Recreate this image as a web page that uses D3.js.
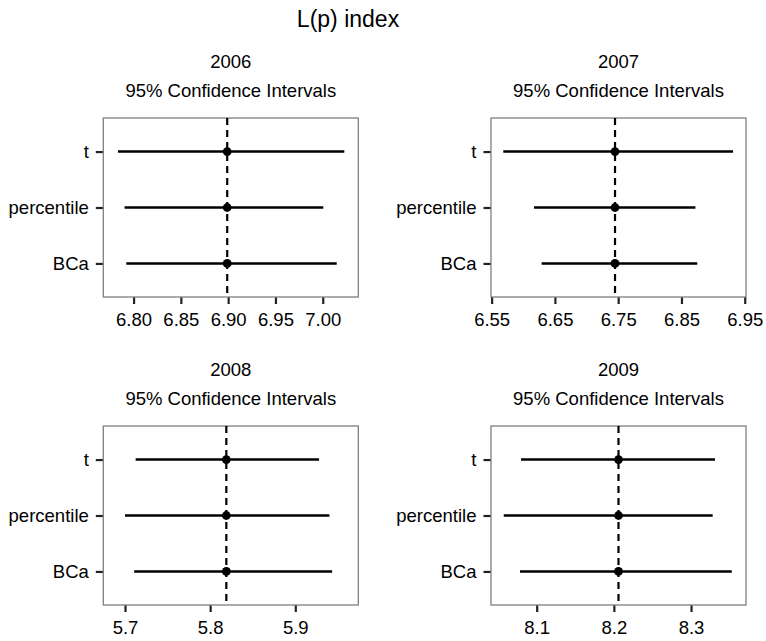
<!DOCTYPE html>
<html>
<head>
<meta charset="utf-8">
<script src="https://cdn.jsdelivr.net/npm/d3@7"></script>
<style>
  body { margin: 0; background: #fff; }
  svg { font-family: "Liberation Sans", Arial, sans-serif; }
  .tick text { fill: #000; }
</style>
</head>
<body>
<svg width="766" height="641"></svg>
<script>
// data
const years = ["2006", "2007", "2008", "2009"];
const methods = ["t", "percentile", "BCa"];
const estimates = [6.899, 6.745, 5.819, 8.206];
// lower / upper bounds per year, in the order of methods
const lowerCI = [
  [6.7835, 6.7905, 6.7923],
  [6.5684, 6.6170, 6.6290],
  [5.7125, 5.7000, 5.7108],
  [8.0797, 8.0573, 8.0784]
];
const upperCI = [
  [7.0228, 7.0006, 7.0148],
  [6.9316, 6.8720, 6.8750],
  [5.9279, 5.9401, 5.9433],
  [8.3310, 8.3280, 8.3528]
];
// axis limits and tick labels
const xDomains = [[6.768, 7.0376], [6.549, 6.952], [5.6745, 5.974], [8.0408, 8.3712]];
const xTicks = [
  [6.80, 6.85, 6.90, 6.95, 7.00],
  [6.55, 6.65, 6.75, 6.85, 6.95],
  [5.7, 5.8, 5.9],
  [8.1, 8.2, 8.3]
];
const tickFormats = [".2f", ".2f", ".1f", ".1f"];

const svg = d3.select("svg");
const fontSize = 18.5;

// overall title
svg.append("text")
  .attr("x", 348).attr("y", 26.5)
  .attr("text-anchor", "middle")
  .style("font-size", "23px")
  .text("L(p) index");

// panel boxes (left, top) - 2x2 grid
const colX = [103.3, 491];
const rowY = [118, 426];
const pw = 255, ph = 179;

years.forEach((year, i) => {
  const left = colX[i % 2], top = rowY[Math.floor(i / 2)];
  const g = svg.append("g").attr("transform", `translate(${left},${top})`);

  const x = d3.scaleLinear().domain(xDomains[i]).range([0, pw]);
  const y = d3.scalePoint().domain(methods).range([0, ph]).padding(0.6);

  // titles
  g.append("text")
    .attr("x", pw / 2).attr("y", -50)
    .attr("text-anchor", "middle")
    .style("font-size", fontSize + "px")
    .text(year);
  g.append("text")
    .attr("x", pw / 2).attr("y", -21)
    .attr("text-anchor", "middle")
    .style("font-size", fontSize + "px")
    .text("95% Confidence Intervals");

  // axes
  const xAxis = g.append("g")
    .attr("transform", `translate(0,${ph})`)
    .call(d3.axisBottom(x).tickValues(xTicks[i]).tickFormat(d3.format(tickFormats[i])).tickSize(7).tickPadding(9));
  const yAxis = g.append("g")
    .call(d3.axisLeft(y).tickSize(7.5).tickPadding(7));
  [xAxis, yAxis].forEach(a => {
    a.select(".domain").remove();
    a.selectAll(".tick line").attr("stroke", "#222").attr("stroke-width", 2.2);
    a.selectAll(".tick text").style("font-size", fontSize + "px").attr("font-family", null);
  });

  // panel border
  g.append("rect")
    .attr("x", 0).attr("y", 0).attr("width", pw).attr("height", ph)
    .attr("fill", "none").attr("stroke", "#7f7f7f").attr("stroke-width", 1.3);

  // reference line at the estimate
  g.append("line")
    .attr("x1", x(estimates[i])).attr("x2", x(estimates[i]))
    .attr("y1", 0).attr("y2", ph)
    .attr("stroke", "#000").attr("stroke-width", 2.2)
    .attr("stroke-dasharray", "7,5");

  // intervals
  g.selectAll("line.ci")
    .data(methods)
    .join("line")
    .attr("class", "ci")
    .attr("x1", (d, j) => x(lowerCI[i][j]))
    .attr("x2", (d, j) => x(upperCI[i][j]))
    .attr("y1", d => y(d)).attr("y2", d => y(d))
    .attr("stroke", "#000").attr("stroke-width", 2.6);

  g.selectAll("circle.est")
    .data(methods)
    .join("circle")
    .attr("class", "est")
    .attr("cx", x(estimates[i]))
    .attr("cy", d => y(d))
    .attr("r", 4.4)
    .attr("fill", "#000");
});
</script>
</body>
</html>
